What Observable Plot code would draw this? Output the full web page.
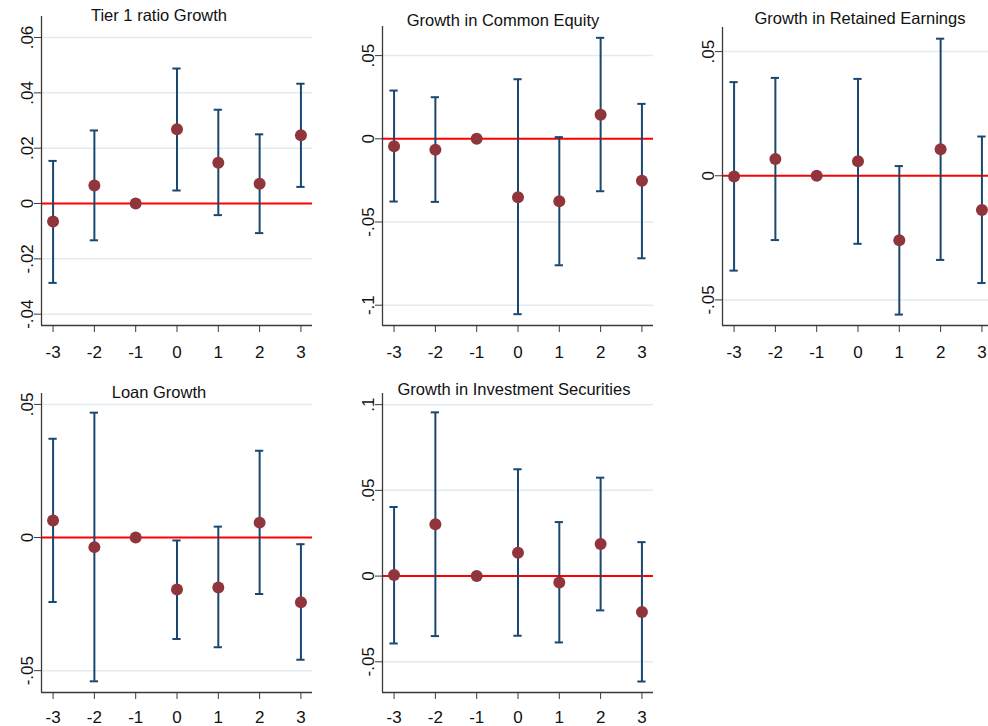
<!DOCTYPE html>
<html>
<head>
<meta charset="utf-8">
<script src="https://cdn.jsdelivr.net/npm/d3@7"></script>
<script src="https://cdn.jsdelivr.net/npm/@observablehq/plot@0.6"></script>
<style>
  html, body { margin: 0; padding: 0; background: #fff; }
  #chart { position: relative; width: 988px; height: 726px; overflow: hidden; background: #fff;
           font-family: "Liberation Sans", Arial, sans-serif; }
  .panel { position: absolute; }
  .panel svg { max-width: none !important; }
  .ptitle { position: absolute; width: 320px; text-align: center; font-size: 16.5px; line-height: 16.5px;
            color: #111; white-space: nowrap; font-family: "Liberation Sans", Arial, sans-serif; }
</style>
</head>
<body>
<div id="chart"></div>
<script>
// ---- Data ----
const periods = [-3, -2, -1, 0, 1, 2, 3];

const titles = ["Tier 1 ratio Growth", "Growth in Common Equity", "Growth in Retained Earnings",
                "Loan Growth", "Growth in Investment Securities"];

const tier1Coef = [-0.0065, 0.0065, 0, 0.0268, 0.0147, 0.0071, 0.0247];
const tier1Lo   = [-0.0287, -0.0133, null, 0.0047, -0.0042, -0.0107, 0.0060];
const tier1Hi   = [0.0154, 0.0264, null, 0.0488, 0.0339, 0.0250, 0.0433];

const equityCoef = [-0.0044, -0.0066, 0, -0.0351, -0.0375, 0.0144, -0.0252];
const equityLo   = [-0.0377, -0.0379, null, -0.1054, -0.0760, -0.0315, -0.0718];
const equityHi   = [0.0290, 0.0250, null, 0.0358, 0.0010, 0.0607, 0.0210];

const retainedCoef = [-0.0003, 0.0067, 0, 0.0058, -0.0260, 0.0107, -0.0138];
const retainedLo   = [-0.0382, -0.0259, null, -0.0274, -0.0559, -0.0339, -0.0432];
const retainedHi   = [0.0377, 0.0394, null, 0.0390, 0.0039, 0.0552, 0.0158];

const loanCoef = [0.0064, -0.0036, 0, -0.0195, -0.0188, 0.0056, -0.0243];
const loanLo   = [-0.0242, -0.0540, null, -0.0381, -0.0412, -0.0212, -0.0459];
const loanHi   = [0.0371, 0.0469, null, -0.0011, 0.0041, 0.0326, -0.0025];

const investCoef = [0.0006, 0.0302, 0, 0.0136, -0.0037, 0.0187, -0.0210];
const investLo   = [-0.0393, -0.0350, null, -0.0348, -0.0387, -0.0200, -0.0615];
const investHi   = [0.0403, 0.0955, null, 0.0623, 0.0315, 0.0574, 0.0198];

const tier1Ticks    = [-0.04, -0.02, 0, 0.02, 0.04, 0.06];
const equityTicks   = [-0.1, -0.05, 0, 0.05];
const retainedTicks = [-0.05, 0, 0.05];
const loanTicks     = [-0.05, 0, 0.05];
const investTicks   = [-0.05, 0, 0.05, 0.1];

// ---- Styling / layout ----
const NAVY = "#1a476f", MAROON = "#90353b", GRID = "#e3ebee", AXIS = "#3a3a3a";
const FONT = "'Liberation Sans', Arial, sans-serif";
const fmt = d => d === 0 ? "0" : String(+d.toFixed(3)).replace("0.", ".");

const panels = [
  {title: titles[0], coef: tier1Coef, lo: tier1Lo, hi: tier1Hi, ticks: tier1Ticks, ydom: [-0.0441, 0.0676],
   left: 0, top: 0, w: 330, h: 360, ml: 41, mr: 18, mt: 16, mb: 35, tx: 159, ty: 6.7, xpad: 13},
  {title: titles[1], coef: equityCoef, lo: equityLo, hi: equityHi, ticks: equityTicks, ydom: [-0.1122, 0.0675],
   left: 330, top: 0, w: 330, h: 360, ml: 52, mr: 7, mt: 26, mb: 35, tx: 503, ty: 11.5, xpad: 13},
  {title: titles[2], coef: retainedCoef, lo: retainedLo, hi: retainedHi, ticks: retainedTicks, ydom: [-0.0603, 0.0597],
   left: 660, top: 0, w: 340, h: 360, ml: 62, mr: 7, mt: 27, mb: 35, tx: 860, ty: 10, xpad: 13},
  {title: titles[3], coef: loanCoef, lo: loanLo, hi: loanHi, ticks: loanTicks, ydom: [-0.0582, 0.0541],
   left: 0, top: 370, w: 330, h: 356, ml: 41, mr: 18, mt: 23, mb: 34, tx: 159, ty: 383.7, xpad: 11},
  {title: titles[4], coef: investCoef, lo: investLo, hi: investHi, ticks: investTicks, ydom: [-0.0679, 0.1065],
   left: 330, top: 370, w: 330, h: 356, ml: 52, mr: 7, mt: 23, mb: 34, tx: 514, ty: 381.3, xpad: 11}
];

const XDOM = [-3.28, 3.28];
const CAP = 0.1; // half cap width in x units
const chart = document.getElementById("chart");

for (const p of panels) {
  const rows = periods.map((x, i) => ({period: x, coef: p.coef[i], lo: p.lo[i], hi: p.hi[i]}));
  const ci = rows.filter(d => d.lo != null);
  const svg = Plot.plot({
    width: p.w, height: p.h,
    marginLeft: p.ml, marginRight: p.mr, marginTop: p.mt, marginBottom: p.mb,
    x: {domain: XDOM, label: null},
    y: {domain: p.ydom, label: null},
    style: {fontFamily: FONT, fontSize: "17px", background: "transparent", color: "#111", overflow: "visible"},
    marks: [
      Plot.gridY(p.ticks.filter(t => t !== 0), {stroke: GRID, strokeOpacity: 1, strokeWidth: 1.5}),
      Plot.ruleY([0], {stroke: "#ff0000", strokeWidth: 2}),
      Plot.ruleX(ci, {x: "period", y1: "lo", y2: "hi", stroke: NAVY, strokeWidth: 2}),
      Plot.ruleY(ci, {y: "hi", x1: d => d.period - CAP, x2: d => d.period + CAP, stroke: NAVY, strokeWidth: 2}),
      Plot.ruleY(ci, {y: "lo", x1: d => d.period - CAP, x2: d => d.period + CAP, stroke: NAVY, strokeWidth: 2}),
      Plot.dot(rows, {x: "period", y: "coef", r: 6, fill: MAROON, stroke: "none"}),
      Plot.ruleY([p.ydom[0]], {stroke: AXIS, strokeWidth: 1.3}),
      Plot.ruleX([XDOM[0]], {stroke: AXIS, strokeWidth: 1.3}),
      Plot.axisX(periods, {tickSize: 7, tickPadding: p.xpad, fontSize: 17, stroke: AXIS, fill: "#111",
                           label: null, tickFormat: d => String(d)}),
      Plot.axisY(p.ticks, {tickSize: 7, tickPadding: 2, tickRotate: -90, fontSize: 17, stroke: AXIS,
                           fill: "#111", label: null, tickFormat: fmt})
    ]
  });
  const wrap = document.createElement("div");
  wrap.className = "panel";
  wrap.style.left = p.left + "px";
  wrap.style.top = p.top + "px";
  wrap.style.width = p.w + "px";
  wrap.style.height = p.h + "px";
  wrap.appendChild(svg);
  chart.appendChild(wrap);

  const t = document.createElement("div");
  t.className = "ptitle";
  t.textContent = p.title;
  t.style.left = (p.tx - 160) + "px";
  t.style.top = p.ty + "px";
  chart.appendChild(t);
}
</script>
</body>
</html>
